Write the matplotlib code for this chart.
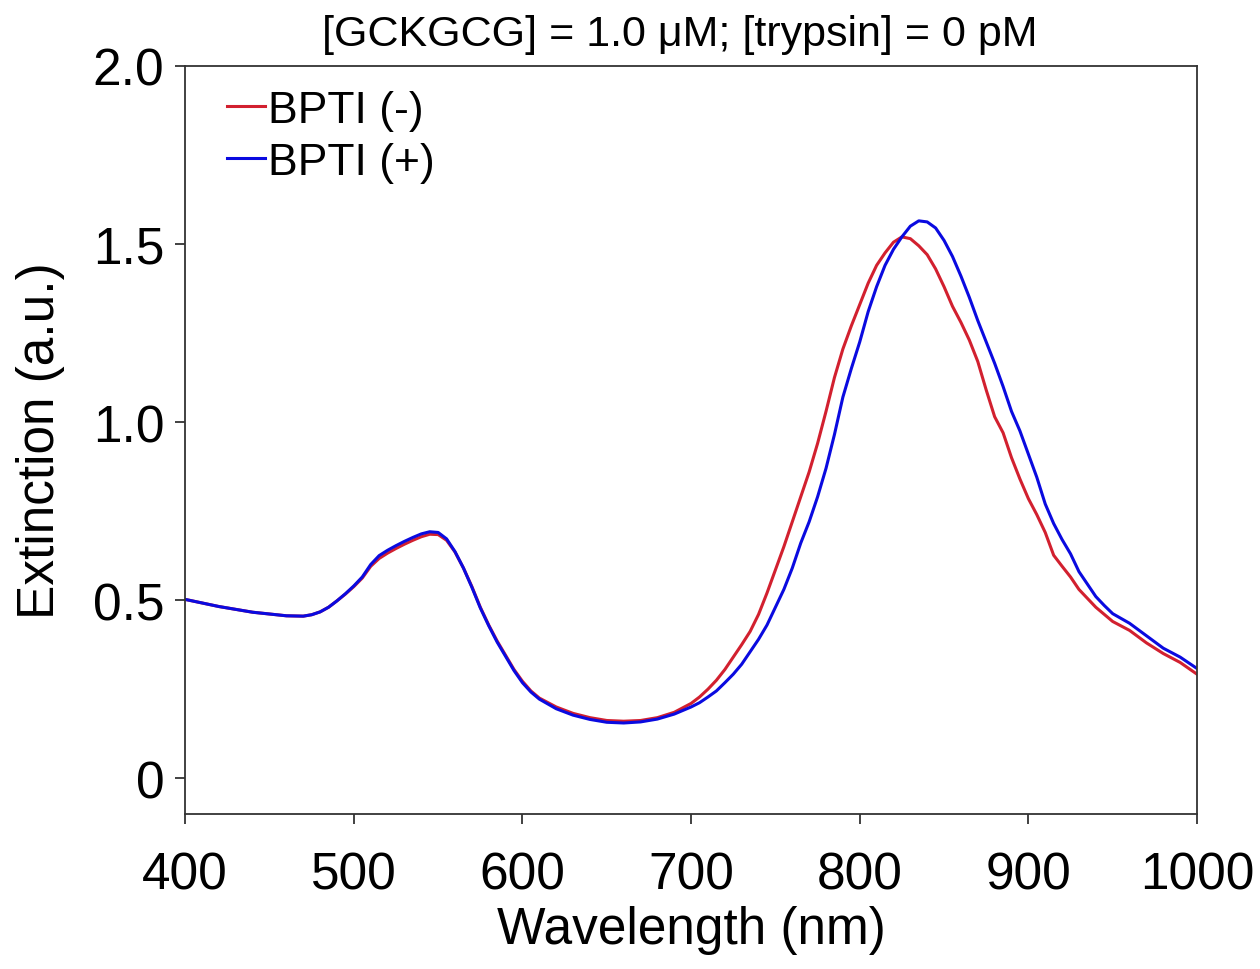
import matplotlib.pyplot as plt

plt.rcParams['font.family'] = ['Liberation Sans', 'DejaVu Sans']

# spectrum
wl = [400, 410, 420, 430, 440, 450, 460, 470, 475, 480, 485, 490, 495, 500,
      505, 510, 515, 520, 525, 530, 535, 540, 545, 550, 555, 560, 565, 570,
      575, 580, 585, 590, 595, 600, 605, 610, 620, 630, 640, 650, 660, 670,
      680, 690, 700, 705, 710, 715, 720, 725, 730, 735, 740, 745, 750, 755,
      760, 765, 770, 775, 780, 785, 790, 795, 800, 805, 810, 815, 820, 825,
      830, 835, 840, 845, 850, 855, 860, 865, 870, 875, 880, 885, 890, 895,
      900, 905, 910, 915, 920, 925, 930, 935, 940, 945, 950, 960, 970, 980,
      990, 1000]

bpti_minus = [0.502, 0.492, 0.482, 0.474, 0.466, 0.461, 0.456, 0.455, 0.459, 0.467,
              0.480, 0.498, 0.517, 0.538, 0.562, 0.595, 0.617, 0.632, 0.645, 0.657,
              0.668, 0.678, 0.685, 0.684, 0.668, 0.635, 0.590, 0.538, 0.480, 0.430,
              0.385, 0.345, 0.305, 0.272, 0.245, 0.225, 0.200, 0.182, 0.170, 0.162,
              0.160, 0.162, 0.170, 0.185, 0.210, 0.228, 0.250, 0.275, 0.305, 0.340,
              0.375, 0.412, 0.460, 0.520, 0.585, 0.650, 0.720, 0.790, 0.860, 0.940,
              1.030, 1.125, 1.205, 1.270, 1.330, 1.390, 1.440, 1.475, 1.505, 1.520,
              1.515, 1.495, 1.470, 1.430, 1.380, 1.325, 1.280, 1.230, 1.170, 1.090,
              1.015, 0.970, 0.900, 0.840, 0.785, 0.740, 0.690, 0.626, 0.595, 0.565,
              0.530, 0.505, 0.480, 0.460, 0.440, 0.415, 0.380, 0.350, 0.325, 0.292]

bpti_plus = [0.502, 0.492, 0.482, 0.474, 0.466, 0.461, 0.456, 0.455, 0.459, 0.467,
             0.480, 0.498, 0.518, 0.540, 0.565, 0.600, 0.625, 0.640, 0.653, 0.665,
             0.676, 0.686, 0.692, 0.690, 0.672, 0.636, 0.590, 0.536, 0.478, 0.428,
             0.382, 0.342, 0.302, 0.268, 0.242, 0.222, 0.195, 0.177, 0.165, 0.157,
             0.155, 0.158, 0.166, 0.180, 0.200, 0.212, 0.228, 0.245, 0.268, 0.292,
             0.320, 0.355, 0.390, 0.430, 0.480, 0.530, 0.590, 0.660, 0.720, 0.790,
             0.870, 0.965, 1.070, 1.150, 1.225, 1.310, 1.380, 1.440, 1.485, 1.520,
             1.550, 1.565, 1.562, 1.545, 1.510, 1.465, 1.410, 1.350, 1.285, 1.225,
             1.165, 1.100, 1.030, 0.975, 0.910, 0.845, 0.770, 0.715, 0.670, 0.630,
             0.580, 0.545, 0.510, 0.485, 0.462, 0.435, 0.400, 0.365, 0.340, 0.308]

xticks = [400, 500, 600, 700, 800, 900, 1000]
yticks = [0, 0.5, 1.0, 1.5, 2.0]
ylabels = ['0', '0.5', '1.0', '1.5', '2.0']

fig = plt.figure(figsize=(12.6, 9.7), dpi=100)
ax = fig.add_axes([0.147, 0.160, 0.803, 0.771])

ax.plot(wl, bpti_minus, color='#d2202f', lw=2.2, label='BPTI (-)')
ax.plot(wl, bpti_plus, color='#0a0ae0', lw=2.2, label='BPTI (+)')

ax.set_xlim(400, 1000)
ax.set_ylim(-0.1, 2.0)
ax.set_xticks(xticks)
ax.set_yticks(yticks)
ax.set_yticklabels(ylabels)
ax.tick_params(direction='out', length=7.5, width=1.3, labelsize=37, color='#333333')
ax.tick_params(axis='x', pad=19)
ax.tick_params(axis='y', pad=7.5)
for s in ax.spines.values():
    s.set_linewidth(1.3)
    s.set_color('#333333')

ax.set_xlabel('Wavelength (nm)', fontsize=37, labelpad=4)
ax.set_ylabel('Extinction (a.u.)', fontsize=37, labelpad=20)
# y given explicitly so matplotlib does not push the title up
ax.set_title('[GCKGCG] = 1.0 μM; [trypsin] = 0 pM', fontsize=31, x=0.489, y=1.0, pad=15)

ax.legend(loc='upper left', bbox_to_anchor=(0.0415, 0.968), frameon=False,
          fontsize=32, handlelength=0.85, handletextpad=0.07,
          borderaxespad=0, borderpad=0, labelspacing=0.25)

fig.savefig('out.png', dpi=100)
